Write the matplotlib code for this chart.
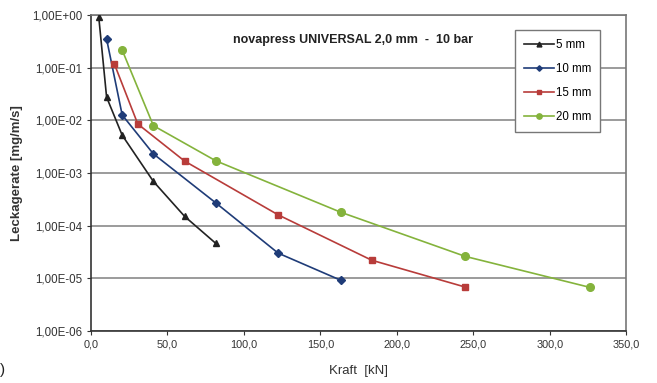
import matplotlib
matplotlib.use("Agg")
import matplotlib.pyplot as plt
from matplotlib.ticker import FixedLocator, FuncFormatter
import math

plt.rcParams['font.family'] = ['Liberation Sans', 'DejaVu Sans']

# Data
x_5 = [5.1, 10.2, 20.4, 40.8, 61.2, 81.6]
y_5 = [0.9, 0.0275, 0.0052, 0.00069, 0.00015, 0.000046]
x_10 = [10.2, 20.4, 40.8, 81.6, 122.4, 163.2]
y_10 = [0.35, 0.0126, 0.0023, 0.00027, 0.00003, 0.0000092]
x_15 = [15.3, 30.6, 61.2, 122.4, 183.6, 244.8]
y_15 = [0.117, 0.0085, 0.00168, 0.00016, 0.000022, 0.0000068]
x_20 = [20.4, 40.8, 81.6, 163.2, 244.8, 326.4]
y_20 = [0.215, 0.0079, 0.0017, 0.00018, 0.000026, 0.0000067]
labels = ["5 mm", "10 mm", "15 mm", "20 mm"]
x_ticks = [0, 50, 100, 150, 200, 250, 300, 350]
y_ticks = [1e0, 1e-1, 1e-2, 1e-3, 1e-4, 1e-5, 1e-6]
title = "novapress UNIVERSAL 2,0 mm  -  10 bar"

fig = plt.figure(figsize=(6.57, 3.83), dpi=100)
ax = fig.add_axes([0.1385, 0.136, 0.953 - 0.1385, 0.961 - 0.136])

styles = [
    dict(color="#222222", marker="^", ms=5),
    dict(color="#1f3c78", marker="D", ms=4),
    dict(color="#b83c3a", marker="s", ms=5),
    dict(color="#84b33c", marker="o", ms=5.5),
]
for (xs, ys), lab, st in zip([(x_5, y_5), (x_10, y_10), (x_15, y_15), (x_20, y_20)], labels, styles):
    ax.plot(xs, ys, color=st["color"], marker=st["marker"], ms=st["ms"],
            mec=st["color"], mfc=st["color"], lw=1.2, label=lab, zorder=3)

ax.set_yscale("log")
ax.set_xlim(0, 350)
ax.set_ylim(1e-6, 1e0)
ax.xaxis.set_major_locator(FixedLocator(x_ticks))
ax.xaxis.set_major_formatter(FuncFormatter(lambda v, p: f"{v:.1f}".replace(".", ",")))
ax.yaxis.set_major_locator(FixedLocator(y_ticks))
ax.yaxis.set_minor_locator(FixedLocator([]))
def yfmt(v, p):
    e = int(round(math.log10(v)))
    sign = "+" if e >= 0 else "-"
    return f"1,00E{sign}{abs(e):02d}"
ax.yaxis.set_major_formatter(FuncFormatter(yfmt))

ax.tick_params(axis="both", colors="#333333", length=3, width=0.8, direction="out")
ax.tick_params(axis="y", labelsize=8.3)
ax.tick_params(axis="x", labelsize=7.8)
ax.grid(True, axis="y", color="#8a8a8a", lw=1.2)
for s in ["left", "bottom"]:
    ax.spines[s].set_color("#333333")
    ax.spines[s].set_linewidth(1.2)
for s in ["top", "right"]:
    ax.spines[s].set_color("#777777")
    ax.spines[s].set_linewidth(1.2)

ax.set_xlabel("Kraft  [kN]", fontsize=9.5, color="#333333", labelpad=11)
ax.set_ylabel("Leckagerate [mg/m/s]", fontsize=9.5, fontweight="bold", color="#333333", labelpad=6)

ax.text(0.49, 0.92, title, transform=ax.transAxes, ha="center", va="center",
        fontsize=9, fontweight="bold", color="#222222")

leg = ax.legend(loc="upper right", bbox_to_anchor=(0.962, 0.97), fontsize=8.3,
                frameon=True, fancybox=False, edgecolor="#777777", framealpha=1,
                handlelength=2.6, handletextpad=0.2, labelspacing=1.05, borderpad=0.75,
                borderaxespad=0.5, markerscale=0.7)
leg.get_frame().set_linewidth(1.0)

fig.text(0.0, 0.035, ")", fontsize=11, color="#222222", ha="left", va="center")

fig.savefig("out.png", dpi=100)
